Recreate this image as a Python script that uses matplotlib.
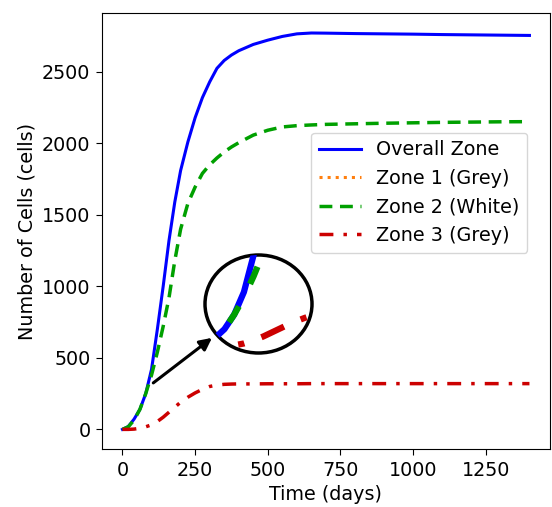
import matplotlib
matplotlib.use('Agg')
import matplotlib.pyplot as plt
from matplotlib.patches import Ellipse
import numpy as np

# time axis (days)
days = [0, 20, 40, 60, 80, 100, 120, 140, 160, 180, 200, 225, 250, 275, 300,
        325, 350, 375, 400, 450, 500, 550, 600, 650, 700, 800, 900, 1000,
        1100, 1200, 1300, 1400]

overall = [0, 20, 72, 140, 250, 420, 700, 1000, 1320, 1590, 1810, 2010, 2180,
           2320, 2430, 2525, 2580, 2618, 2648, 2692, 2722, 2748, 2766, 2772,
           2771, 2768, 2766, 2764, 2761, 2759, 2757, 2755]

zone2 = [0, 18, 65, 140, 250, 380, 540, 720, 920, 1180, 1400, 1580, 1695, 1790,
         1850, 1898, 1940, 1975, 2005, 2058, 2092, 2115, 2124, 2129, 2133, 2137,
         2141, 2144, 2147, 2149, 2151, 2152]

zone3 = [0, 0, 2, 8, 18, 32, 55, 85, 120, 155, 190, 225, 255, 280, 300, 310,
         315, 317, 318, 318, 319, 319, 319, 320, 320, 320, 320, 320, 320, 320,
         320, 320]

# zone 1 never shows up in the plot, only in the legend
zone1 = []

plt.rcParams['font.size'] = 13.8
plt.rcParams['xtick.major.size'] = 4.2
plt.rcParams['ytick.major.size'] = 4.2
plt.rcParams['xtick.major.pad'] = 4.2
plt.rcParams['ytick.major.pad'] = 4.2

fig = plt.figure(figsize=(5.52, 5.07), dpi=100)
ax = fig.add_axes([0.185, 0.114, 0.811, 0.860])

dashdot = (0, (4.0, 2.9, 1.0, 2.9))

ax.plot(days, overall, color='#0000ff', lw=2.2, label='Overall Zone')
ax.plot(days[:len(zone1)], zone1, color='#ff7f0e', lw=2.2, linestyle=':', label='Zone 1 (Grey)')
ax.plot(days, zone2, color='#00a000', lw=2.5, linestyle=(0, (3.7, 2.2)), label='Zone 2 (White)')
ax.plot(days, zone3, color='#cc0000', lw=2.5, linestyle=dashdot, label='Zone 3 (Grey)')

ax.set_xlabel('Time (days)')
ax.set_ylabel('Number of Cells (cells)')
ax.set_xticks([0, 250, 500, 750, 1000, 1250])
ax.set_yticks([0, 500, 1000, 1500, 2000, 2500])

ax.legend(loc='upper right', bbox_to_anchor=(0.95, 0.726), borderaxespad=0.,
          handlelength=2.2, fontsize=13.8)

# circular magnifier
ins = fig.add_axes([205 / 552., 1 - 353 / 507., 107 / 552., 98 / 507.])
ins.set_axis_off()
clip = Ellipse((0.5, 0.5), 1.0, 1.0, transform=ins.transAxes)
for yy, col, ls in [(overall, '#0000ff', '-'),
                    (zone2, '#00a000', (0, (3.0, 4.0))),
                    (zone3, '#cc0000', dashdot)]:
    ln, = ins.plot(days, yy, color=col, lw=4.5, linestyle=ls)
    ln.set_clip_path(clip)
ins.set_xlim(20, 240)
ins.set_ylim(-40, 700)
ins.add_patch(Ellipse((0.5, 0.5), 1.0, 1.0, transform=ins.transAxes,
                      fill=False, edgecolor='black', lw=2.5, clip_on=False))

ax.annotate('', xy=(308, 640), xytext=(106, 325),
            arrowprops=dict(arrowstyle='-|>', color='black', lw=2.2,
                            mutation_scale=18, shrinkA=0, shrinkB=0))

fig.savefig('out.png', dpi=100)
